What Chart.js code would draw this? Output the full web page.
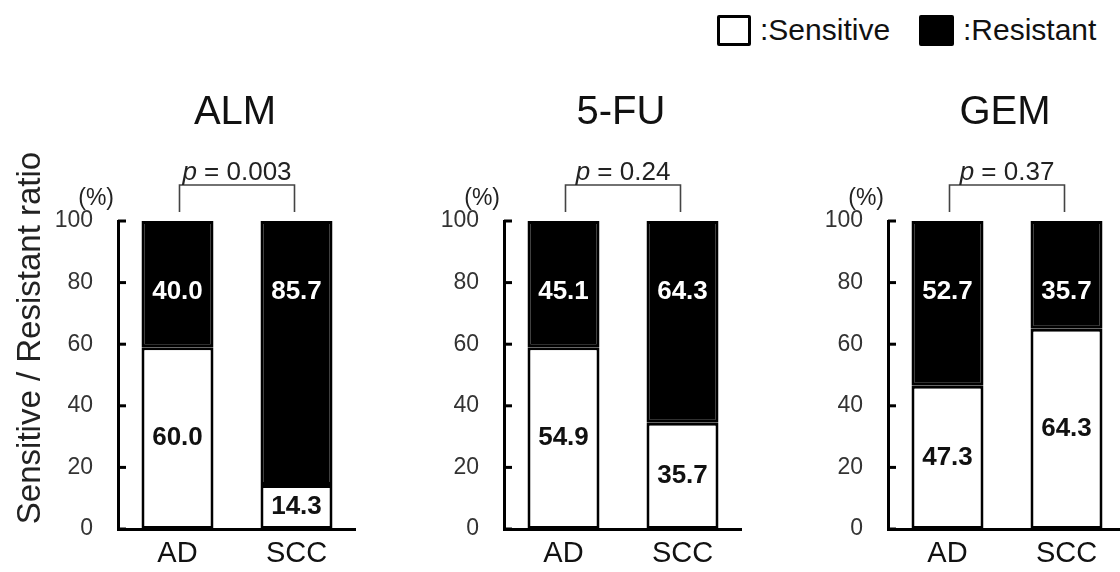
<!DOCTYPE html>
<html>
<head>
<meta charset="utf-8">
<script src="https://cdn.jsdelivr.net/npm/chart.js@4/dist/chart.umd.min.js"></script>
<style>
  html, body { margin: 0; padding: 0; background: #fff; overflow: hidden; }
  #wrap { position: relative; width: 1120px; height: 572px; overflow: hidden; font-family: "Liberation Sans", Arial, sans-serif; }
  canvas { position: absolute; top: 0; }
  .lg-box { position: absolute; box-sizing: border-box; border: 3px solid #000; border-radius: 2px; }
  .lg-txt { position: absolute; font-size: 30px; color: #111; line-height: 30px; }
</style>
</head>
<body>
<div id="wrap">
  <div class="lg-box" style="left:717px;top:15px;width:34px;height:31px;background:#fff"></div>
  <div class="lg-txt" style="left:760px;top:15px">:Sensitive</div>
  <div class="lg-box" style="left:919px;top:15px;width:35px;height:31px;background:#000"></div>
  <div class="lg-txt" style="left:963px;top:15px">:Resistant</div>
  <canvas id="c0" width="356" height="572" style="left:0px"></canvas>
  <canvas id="c1" width="356" height="572" style="left:386px"></canvas>
  <canvas id="c2" width="356" height="572" style="left:770px"></canvas>
</div>
<script>
// data
const categories = ['AD', 'SCC'];
const drugs = ['ALM', '5-FU', 'GEM'];
const pValues = ['0.003', '0.24', '0.37'];
// heights of the white (sensitive) part as drawn in the figure
const sensitiveHeight = [[59, 14.3], [59, 34.5], [46.5, 65]];
// printed labels
const sensitiveLabels = [['60.0', '14.3'], ['54.9', '35.7'], ['47.3', '64.3']];
const resistantLabels = [['40.0', '85.7'], ['45.1', '64.3'], ['52.7', '35.7']];
const yTicks = [0, 20, 40, 60, 80, 100];
const yTitle = 'Sensitive / Resistant ratio';

const FONT = '"Liberation Sans", Arial, sans-serif';

function panelPlugin(p) {
  return {
    id: 'panel' + p,
    afterDatasetsDraw(chart) {
      const ctx = chart.ctx;
      const ys = chart.scales.y;
      const area = chart.chartArea;
      const m0 = chart.getDatasetMeta(0);
      const m1 = chart.getDatasetMeta(1);
      ctx.save();

      // inward tick marks
      ctx.strokeStyle = '#000';
      ctx.lineWidth = 3;
      yTicks.forEach(v => {
        const y = ys.getPixelForValue(v);
        ctx.beginPath();
        ctx.moveTo(area.left, y);
        ctx.lineTo(area.left + 8, y);
        ctx.stroke();
      });

      // value labels
      ctx.font = 'bold 26px ' + FONT;
      ctx.textAlign = 'center';
      ctx.textBaseline = 'middle';
      categories.forEach((c, i) => {
        const s = m0.data[i];
        ctx.fillStyle = '#111';
        ctx.fillText(sensitiveLabels[p][i], s.x, (s.y + s.base) / 2);
        const r = m1.data[i];
        ctx.fillStyle = '#fff';
        ctx.fillText(resistantLabels[p][i], r.x, r.y + 71);
      });

      // bracket + p value
      const x0 = m0.data[0].x + 2, x1 = m0.data[1].x - 2;
      const top = area.top - 36, bot = area.top - 9;
      ctx.strokeStyle = '#444';
      ctx.lineWidth = 1.6;
      ctx.beginPath();
      ctx.moveTo(x0, bot); ctx.lineTo(x0, top); ctx.lineTo(x1, top); ctx.lineTo(x1, bot);
      ctx.stroke();

      const cx = (x0 + x1) / 2;
      ctx.fillStyle = '#222';
      ctx.textBaseline = 'alphabetic';
      ctx.textAlign = 'left';
      const it = 'italic 26px ' + FONT, nf = '26px ' + FONT;
      ctx.font = it; const wp = ctx.measureText('p').width;
      ctx.font = nf; const rest = ' = ' + pValues[p]; const wr = ctx.measureText(rest).width;
      const sx = cx - (wp + wr) / 2;
      ctx.font = it; ctx.fillText('p', sx, top - 5);
      ctx.font = nf; ctx.fillText(rest, sx + wp, top - 5);

      // panel title
      ctx.font = '40px ' + FONT;
      ctx.fillStyle = '#111';
      ctx.textAlign = 'center';
      ctx.textBaseline = 'middle';
      ctx.fillText(drugs[p], cx - 2, 113);

      // (%) unit
      ctx.font = '23px ' + FONT;
      ctx.fillStyle = '#222';
      ctx.textAlign = 'right';
      ctx.fillText('(%)', area.left - 4, area.top - 22);

      if (p === 0) {
        ctx.translate(31, 338);
        ctx.rotate(-Math.PI / 2);
        ctx.font = '33px ' + FONT;
        ctx.fillStyle = '#222';
        ctx.textAlign = 'center';
        ctx.fillText(yTitle, 0, 0);
      }
      ctx.restore();
    }
  };
}

drugs.forEach((d, p) => {
  const resistant = sensitiveHeight[p].map(v => 100 - v);
  new Chart(document.getElementById('c' + p), {
    type: 'bar',
    data: {
      labels: categories,
      datasets: [
        { label: 'Sensitive', data: sensitiveHeight[p], backgroundColor: '#fff', borderColor: '#000', borderWidth: 3, borderSkipped: false },
        { label: 'Resistant', data: resistant, backgroundColor: '#000', borderColor: '#000', borderWidth: 3, borderSkipped: false }
      ]
    },
    options: {
      responsive: false,
      animation: false,
      layout: { padding: { top: 221, left: 0, right: 0, bottom: 0 } },
      plugins: { legend: { display: false }, tooltip: { enabled: false } },
      datasets: { bar: { categoryPercentage: 0.605, barPercentage: 1 } },
      scales: {
        x: {
          stacked: true,
          grid: { display: false, drawTicks: false },
          border: { display: true, color: '#000', width: 3 },
          ticks: { color: '#111', font: { family: FONT, size: 29 }, padding: 8 },
          afterFit: s => { s.height = 43; }
        },
        y: {
          stacked: true,
          min: 0, max: 100,
          grid: { display: false, drawTicks: false },
          border: { display: true, color: '#000', width: 3 },
          ticks: { stepSize: 20, color: '#333', font: { family: FONT, size: 23 }, padding: 25 },
          afterFit: s => { s.width = 118; }
        }
      }
    },
    plugins: [panelPlugin(p)]
  });
});
</script>
</body>
</html>
